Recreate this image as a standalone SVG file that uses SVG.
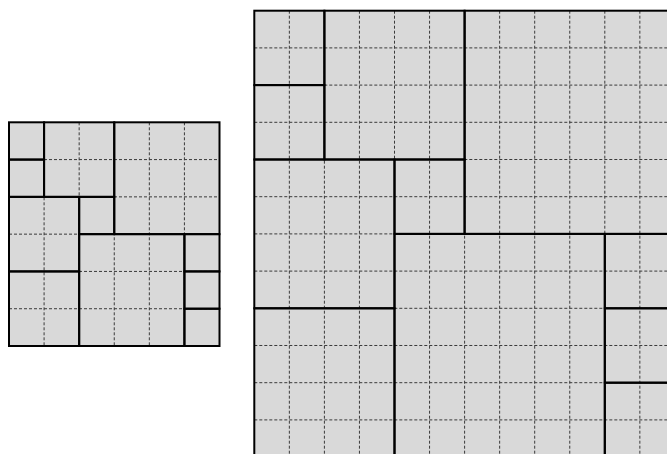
<svg xmlns="http://www.w3.org/2000/svg" width="667" height="454" viewBox="0 0 667 454">
<style>
.bg{fill:#d9d9d9;stroke:none}
.dash{stroke:#3a3a3a;stroke-width:1;stroke-dasharray:3 2;fill:none}
.blk{fill:none;stroke:#000;stroke-width:2}
</style>
<rect width="667" height="454" fill="#fff"/>
<g id="left-grid" transform="translate(9,122.3)">
  <rect class="bg" x="0" y="0" width="210.5" height="223.7"/>
  <g id="left-dashes" class="dash">
    <path d="M35.08 0V223.7M70.17 0V223.7M105.25 0V223.7M140.33 0V223.7M175.42 0V223.7"/>
    <path d="M0 37.28H210.5M0 74.57H210.5M0 111.85H210.5M0 149.13H210.5M0 186.42H210.5"/>
  </g>
  <g id="L1"><rect class="blk" x="0" y="0" width="35.08" height="37.28"/></g>
  <g id="L2"><rect class="blk" x="0" y="37.28" width="35.08" height="37.28"/></g>
  <g id="L3"><rect class="blk" x="35.08" y="0" width="70.17" height="74.57"/></g>
  <g id="L4"><rect class="blk" x="105.25" y="0" width="105.25" height="111.85"/></g>
  <g id="L5"><rect class="blk" x="70.17" y="74.57" width="35.08" height="37.28"/></g>
  <g id="L6"><rect class="blk" x="0" y="74.57" width="70.17" height="74.57"/></g>
  <g id="L7"><rect class="blk" x="0" y="149.13" width="70.17" height="74.57"/></g>
  <g id="L8"><rect class="blk" x="70.17" y="111.85" width="105.25" height="111.85"/></g>
  <g id="L9"><rect class="blk" x="175.42" y="111.85" width="35.08" height="37.28"/></g>
  <g id="L10"><rect class="blk" x="175.42" y="149.13" width="35.08" height="37.28"/></g>
  <g id="L11"><rect class="blk" x="175.42" y="186.42" width="35.08" height="37.28"/></g>
</g>
<g id="right-grid" transform="translate(254.3,10.7)">
  <rect class="bg" x="0" y="0" width="420.6" height="446.4"/>
  <g id="right-dashes" class="dash">
    <path d="M35.05 0V446.4M70.1 0V446.4M105.15 0V446.4M140.2 0V446.4M175.25 0V446.4M210.3 0V446.4M245.35 0V446.4M280.4 0V446.4M315.45 0V446.4M350.5 0V446.4M385.55 0V446.4"/>
    <path d="M0 37.2H420.6M0 74.4H420.6M0 111.6H420.6M0 148.8H420.6M0 186H420.6M0 223.2H420.6M0 260.4H420.6M0 297.6H420.6M0 334.8H420.6M0 372H420.6M0 409.2H420.6"/>
  </g>
  <g id="R1"><rect class="blk" x="0" y="0" width="70.1" height="74.4"/></g>
  <g id="R2"><rect class="blk" x="0" y="74.4" width="70.1" height="74.4"/></g>
  <g id="R3"><rect class="blk" x="70.1" y="0" width="140.2" height="148.8"/></g>
  <g id="R4"><rect class="blk" x="210.3" y="0" width="210.3" height="223.2"/></g>
  <g id="R5"><rect class="blk" x="140.2" y="148.8" width="70.1" height="74.4"/></g>
  <g id="R6"><rect class="blk" x="0" y="148.8" width="140.2" height="148.8"/></g>
  <g id="R7"><rect class="blk" x="0" y="297.6" width="140.2" height="148.8"/></g>
  <g id="R8"><rect class="blk" x="140.2" y="223.2" width="210.3" height="223.2"/></g>
  <g id="R9"><rect class="blk" x="350.5" y="223.2" width="70.1" height="74.4"/></g>
  <g id="R10"><rect class="blk" x="350.5" y="297.6" width="70.1" height="74.4"/></g>
  <g id="R11"><rect class="blk" x="350.5" y="372" width="70.1" height="74.4"/></g>
</g>
</svg>
